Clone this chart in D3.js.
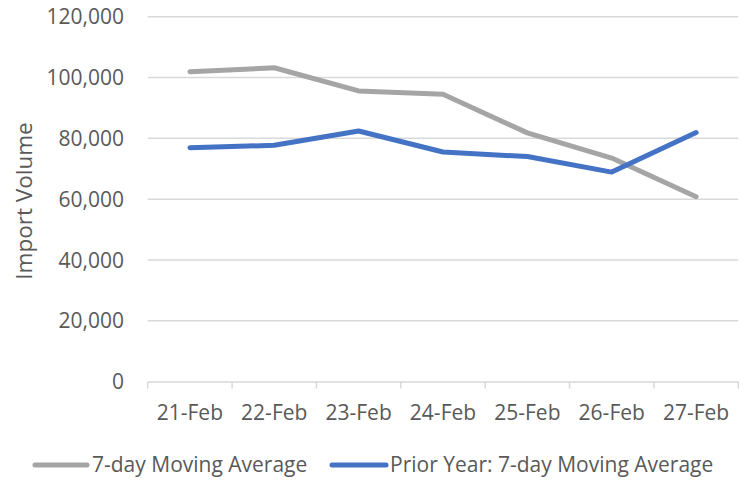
<!DOCTYPE html>
<html>
<head>
<meta charset="utf-8">
<script src="https://cdn.jsdelivr.net/npm/d3@7"></script>
<style>
  html, body { margin: 0; padding: 0; background: #fff; }
  svg { display: block; }
  text { font-family: "Open Sans", sans-serif; fill: #595959; }
</style>
</head>
<body>
<svg id="chart" width="746" height="481"></svg>
<script>
const categories = ["21-Feb", "22-Feb", "23-Feb", "24-Feb", "25-Feb", "26-Feb", "27-Feb"];
const currentValues = [101900, 103200, 95600, 94500, 81800, 73500, 60800];
const priorValues = [76900, 77700, 82400, 75500, 74000, 68900, 81900];
const yTicks = [0, 20000, 40000, 60000, 80000, 100000, 120000];
const seriesNames = ["7-day Moving Average", "Prior Year: 7-day Moving Average"];
const seriesColors = ["#A5A5A5", "#4472C4"];

(function () {
const svg = d3.select("#chart");
const plotLeft = 147.7, plotRight = 738.3, plotTop = 16.7, plotBottom = 381.6;

const x = d3.scaleBand().domain(categories).range([plotLeft, plotRight]).padding(0);
const y = d3.scaleLinear().domain([0, 120000]).range([plotBottom, plotTop]);
const fmt = d3.format(",");

// gridlines
svg.append("g").selectAll("line")
  .data(yTicks.filter(d => d > 0))
  .join("line")
  .attr("x1", plotLeft).attr("x2", plotRight)
  .attr("y1", d => y(d)).attr("y2", d => y(d))
  .attr("stroke", "#D9D9D9").attr("stroke-width", 1.5);

// y labels
svg.append("g").selectAll("text")
  .data(yTicks)
  .join("text")
  .attr("x", 124)
  .attr("y", d => y(d))
  .attr("dy", "0.36em")
  .attr("text-anchor", "end")
  .attr("font-size", 21)
  .text(d => fmt(d));

// x axis
const xAxis = d3.axisBottom(x).tickSize(0).tickFormat("");
const gx = svg.append("g").attr("transform", `translate(0,${plotBottom})`).call(xAxis);
gx.select(".domain").attr("stroke", "#D9D9D9").attr("stroke-width", 1.5);
const bounds = categories.map(c => x(c)).concat([plotRight]);
svg.append("g").selectAll("line")
  .data(bounds)
  .join("line")
  .attr("x1", d => d).attr("x2", d => d)
  .attr("y1", plotBottom).attr("y2", plotBottom + 7)
  .attr("stroke", "#D9D9D9").attr("stroke-width", 1.5);

svg.append("g").selectAll("text")
  .data(categories)
  .join("text")
  .attr("x", d => x(d) + x.bandwidth() / 2)
  .attr("y", 420)
  .attr("text-anchor", "middle")
  .attr("font-size", 21)
  .text(d => d);

// y axis title
svg.append("text")
  .attr("transform", `translate(32,201) rotate(-90)`)
  .attr("text-anchor", "middle")
  .attr("font-size", 22.5)
  .text("Import Volume");

// lines
const line = d3.line()
  .x((d, i) => x(categories[i]) + x.bandwidth() / 2)
  .y(d => y(d));

[currentValues, priorValues].forEach((vals, k) => {
  svg.append("path")
    .datum(vals)
    .attr("d", line)
    .attr("fill", "none")
    .attr("stroke", seriesColors[k])
    .attr("stroke-width", 5)
    .attr("stroke-linejoin", "round")
    .attr("stroke-linecap", "round");
});

// legend
const legendItems = [
  { name: seriesNames[0], color: seriesColors[0], x1: 35, x2: 87, tx: 92 },
  { name: seriesNames[1], color: seriesColors[1], x1: 332, x2: 386, tx: 390 }
];
const lg = svg.append("g");
legendItems.forEach(it => {
  lg.append("line")
    .attr("x1", it.x1).attr("x2", it.x2)
    .attr("y1", 465).attr("y2", 465)
    .attr("stroke", it.color).attr("stroke-width", 5)
    .attr("stroke-linecap", "round");
  lg.append("text")
    .attr("x", it.tx).attr("y", 471.5)
    .attr("font-size", 21)
    .text(it.name);
});
})();
</script>
</body>
</html>
